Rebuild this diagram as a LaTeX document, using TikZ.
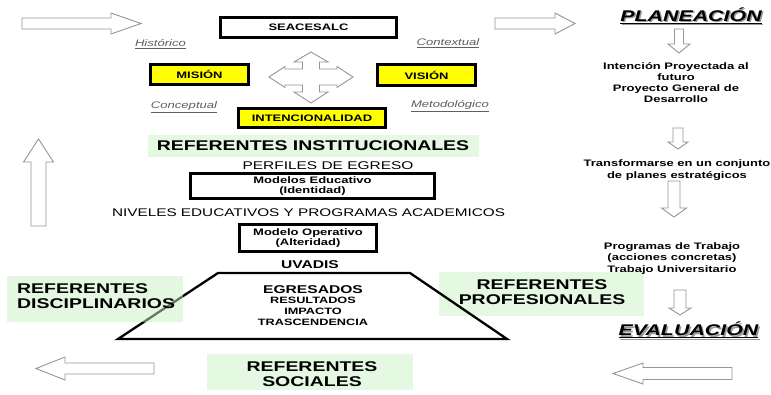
\documentclass[tikz,border=0pt]{standalone}
\usepackage{fontspec}
\newfontfamily\W{Liberation Sans}[FakeStretch=1.38]
\newcommand\myfs[2]{\fontsize{#1}{#2}\selectfont}
\definecolor{refgreen}{RGB}{228,248,226}
\definecolor{refgreenhalf}{RGB}{201,241,197}
\definecolor{boxyellow}{RGB}{255,255,0}
\definecolor{lblgray}{RGB}{95,95,95}
\definecolor{arrgray}{RGB}{150,150,150}
\tikzset{
  thickbox/.style={draw=black, line width=2.6pt, inner sep=0pt, align=center},
  ybox/.style={thickbox, fill=boxyellow},
  greenbg/.style={fill=refgreen, draw=none, inner sep=0pt},
  blockarrow/.style={draw=arrgray, fill=white, line width=0.9pt, line join=miter},
  txt/.style={inner sep=0pt, align=center},
  boxfont/.style={font=\W\bfseries\myfs{9.4}{10}},
  bigfont/.style={font=\W\bfseries\myfs{14.1}{15}},
  lbl/.style={inner sep=0pt, font=\W\itshape\myfs{9.5}{11}, text=lblgray},
  smallfont/.style={font=\W\bfseries\myfs{9.4}{11.2}},
}
\newcommand\HArrow[6]{% tail x, tip x, head base x, cy, shaft half, head half
  \draw[blockarrow] (#1,#4-#5) -- (#3,#4-#5) -- (#3,#4-#6) -- (#2,#4) -- (#3,#4+#6) -- (#3,#4+#5) -- (#1,#4+#5) -- cycle;}
\newcommand\VArrow[6]{% tail y, tip y, head base y, cx, shaft half, head half
  \draw[blockarrow] (#4-#5,#1) -- (#4-#5,#3) -- (#4-#6,#3) -- (#4,#2) -- (#4+#6,#3) -- (#4+#5,#3) -- (#4+#5,#1) -- cycle;}
\begin{document}
\begin{tikzpicture}[x=1pt,y=-1pt]
\useasboundingbox[fill=white] (0,0) rectangle (771,394);

% green backgrounds (under the trapezoid)
\node[greenbg, minimum width=331pt, minimum height=22pt] (ginst) at (313.5,146) {};
\node[greenbg, minimum width=205pt, minimum height=44pt] (gprof) at (541.5,294) {};
\node[greenbg, minimum width=206pt, minimum height=36pt] (gsoc) at (310,372) {};

% block arrows
\HArrow{22}{141}{111}{23.5}{5.5}{10.5}
\HArrow{495}{575}{555}{23.5}{5.5}{10.5}
\HArrow{154}{36}{65}{368.5}{5.5}{11.5}
\HArrow{732}{613}{643}{373.5}{6}{10.5}
\VArrow{226}{139}{162}{38.5}{7.5}{15}
\VArrow{29}{53}{44}{679}{4.5}{11}
\VArrow{128}{149}{142}{678}{5}{10}
\VArrow{181}{217}{208}{674}{6}{12.5}
\VArrow{290}{315}{308}{680}{6}{11}

% four-way arrow
\draw[blockarrow] (311,52) -- (328,62) -- (319.5,62) -- (319.5,69) -- (337,69) -- (337,66.5)
  -- (353,77) -- (337,87.5) -- (337,85) -- (319.5,85) -- (319.5,92) -- (328,92)
  -- (311,103) -- (294,92) -- (302.5,92) -- (302.5,85) -- (285,85) -- (285,87.5)
  -- (269,77) -- (285,66.5) -- (285,69) -- (302.5,69) -- (302.5,62) -- (294,62) -- cycle;

% boxes
\node[thickbox, boxfont, minimum width=176.5pt, minimum height=20.5pt] (seacesalc) at (308.5,27.5) {SEACESALC};
\node[ybox, boxfont, minimum width=98.5pt, minimum height=20.5pt] (mision) at (199.5,74.5) {MISIÓN};
\node[ybox, boxfont, minimum width=98.5pt, minimum height=21.5pt] (vision) at (426.5,75) {VISIÓN};
\node[ybox, boxfont, minimum width=147.5pt, minimum height=19.5pt] (intenc) at (312,118) {INTENCIONALIDAD};
\node[thickbox, boxfont, minimum width=244.5pt, minimum height=25.5pt] (modedu) at (312.5,186) {Modelos Educativo\\(Identidad)};
\node[thickbox, boxfont, minimum width=137.5pt, minimum height=27.5pt] (modop) at (308,238) {Modelo Operativo\\(Alteridad)};

% italic labels
\node[lbl] (hist) at (160.5,44) {\underline{Histórico}};
\node[lbl] (cont) at (448,43) {\underline{Contextual}};
\node[lbl] (conc) at (184,107) {\underline{Conceptual}};
\node[lbl] (metod) at (450,106) {\underline{Metodológico}};

% trapezoid
\draw[line width=2.3pt, line join=miter] (218,273) -- (410,273) -- (507,339) -- (118,339) -- cycle;

% semi-transparent green box over the trapezoid's left side
\node[fill=refgreenhalf, fill opacity=0.5, draw=none, inner sep=0pt, minimum width=176pt, minimum height=46pt] (gdisc) at (95,299) {};

% central texts
\node[txt, bigfont] (inst) at (313,146) {REFERENTES INSTITUCIONALES};
\node[txt, font=\W\myfs{11.2}{13}] (perfiles) at (328,166) {PERFILES DE EGRESO};
\node[txt, font=\W\myfs{11.1}{13}] (niveles) at (308.5,213) {NIVELES EDUCATIVOS Y PROGRAMAS ACADEMICOS};
\node[txt, font=\W\bfseries\myfs{11.3}{13}] (uvadis) at (310,265) {UVADIS};
\node[txt, font=\W\bfseries\myfs{11.3}{13}] (egres) at (313,290) {EGRESADOS};
\node[txt, font=\W\bfseries\myfs{9.2}{11}, anchor=north] (result) at (313,297) {RESULTADOS\\IMPACTO\\TRASCENDENCIA};

% referentes
\node[txt, bigfont, align=left, anchor=west] (disc) at (17,296) {REFERENTES\\DISCIPLINARIOS};
\node[txt, bigfont] (prof) at (542,292) {REFERENTES\\PROFESIONALES};
\node[txt, bigfont] (soc) at (312,374) {REFERENTES\\SOCIALES};

% right column
\node[txt, font=\W\bfseries\itshape\myfs{15.5}{18}, text=black!40] at (692.5,17) {\underline{PLANEACIÓN}};
\node[txt, font=\W\bfseries\itshape\myfs{15.5}{18}] (plan) at (691,15.5) {\underline{PLANEACIÓN}};
\node[txt, smallfont] (int) at (676,82.5) {Intención Proyectada al\\futuro\\Proyecto General de\\Desarrollo};
\node[txt, smallfont] (transf) at (677,170) {Transformarse en un conjunto\\de planes estratégicos};
\node[txt, smallfont] (progr) at (672,258.5) {Programas de Trabajo\\(acciones concretas)\\Trabajo Universitario};
\node[txt, font=\W\bfseries\itshape\myfs{15.5}{18}, text=black!40] at (690,331.5) {\underline{EVALUACIÓN}};
\node[txt, font=\W\bfseries\itshape\myfs{15.5}{18}] (eval) at (688.5,330) {\underline{EVALUACIÓN}};
\end{tikzpicture}
\end{document}
